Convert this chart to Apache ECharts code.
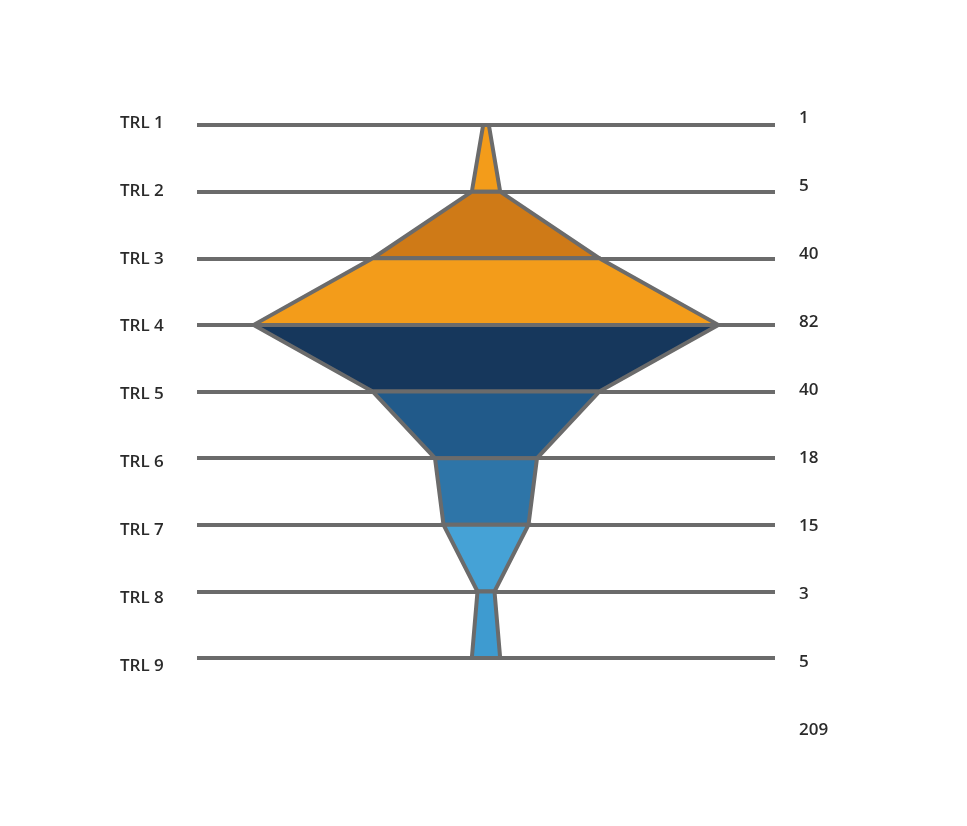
<!DOCTYPE html>
<html>
<head>
<meta charset="utf-8">
<script src="https://cdn.jsdelivr.net/npm/echarts@6/dist/echarts.min.js"></script>
<style>html,body{margin:0;padding:0;background:#fff;}#c{width:967px;height:826px;}</style>
</head>
<body>
<div id="c"></div>
<script>
var levels = ['TRL 1','TRL 2','TRL 3','TRL 4','TRL 5','TRL 6','TRL 7','TRL 8','TRL 9'];
var counts = [1, 5, 40, 82, 40, 18, 15, 3, 5];
var segColors = ['#F39C1A','#CF7A17','#F39C1A','#16375C','#215A8A','#2E75A8','#45A2D6','#3E9BD0'];
var total = counts.reduce(function(a,b){return a+b;},0);
var rightLabels = counts.map(String).concat([String(total)]);

var segData = [];
for (var i = 0; i < counts.length - 1; i++) segData.push([i, counts[i], counts[i+1]]);

var chart = echarts.init(document.getElementById('c'));
var font = '"Open Sans", Lato, sans-serif';
var txt = {fontFamily: font, fontSize: 17, fontWeight: 600, color: '#2b2b2b'};
function lbl(extra) { return Object.assign({}, txt, extra); }
chart.setOption({
  animation: false,
  grid: [
    {left: 197, right: 192, top: 125, bottom: 168},
    {left: 197, right: 192, top: 123, bottom: 160},
    {left: 197, right: 192, top: 118, bottom: 96}
  ],
  xAxis: [
    {type: 'value', min: -51, max: 51, show: false, gridIndex: 0},
    {type: 'value', min: 0, max: 1, show: false, gridIndex: 1},
    {type: 'value', min: 0, max: 1, show: false, gridIndex: 2}
  ],
  yAxis: [{
    gridIndex: 0, type: 'value', min: 1, max: 9, interval: 1, inverse: true,
    axisLine: {show: false}, axisTick: {show: false}, axisLabel: {show: false},
    splitLine: {show: true, lineStyle: {color: '#6b6b6b', width: 4}}
  }, {
    gridIndex: 1, type: 'value', min: 1, max: 9, interval: 1, inverse: true, position: 'left',
    axisLine: {show: false}, axisTick: {show: false}, splitLine: {show: false},
    axisLabel: lbl({margin: 77, align: 'left',
      formatter: function (v) { return levels[v - 1] || ''; }})
  }, {
    gridIndex: 2, type: 'value', min: 1, max: 10, interval: 1, inverse: true, position: 'right',
    axisLine: {show: false}, axisTick: {show: false}, splitLine: {show: false},
    axisLabel: lbl({margin: 24, align: 'left',
      formatter: function (v) { var c = rightLabels[v - 1]; return c === undefined ? '' : c; }})
  }],
  series: [{
    type: 'custom',
    xAxisIndex: 0, yAxisIndex: 0,
    data: segData,
    encode: {x: [1, 2], y: 0},
    renderItem: function (params, api) {
      var i = api.value(0), a = api.value(1), b = api.value(2);
      var p1 = api.coord([-a / 2, i + 1]);
      var p2 = api.coord([a / 2, i + 1]);
      var p3 = api.coord([b / 2, i + 2]);
      var p4 = api.coord([-b / 2, i + 2]);
      return {
        type: 'polygon',
        shape: {points: [p1, p2, p3, p4]},
        style: {fill: segColors[i], stroke: '#6b6b6b', lineWidth: 4, lineJoin: 'miter'}
      };
    }
  }]
});
</script>
</body>
</html>
